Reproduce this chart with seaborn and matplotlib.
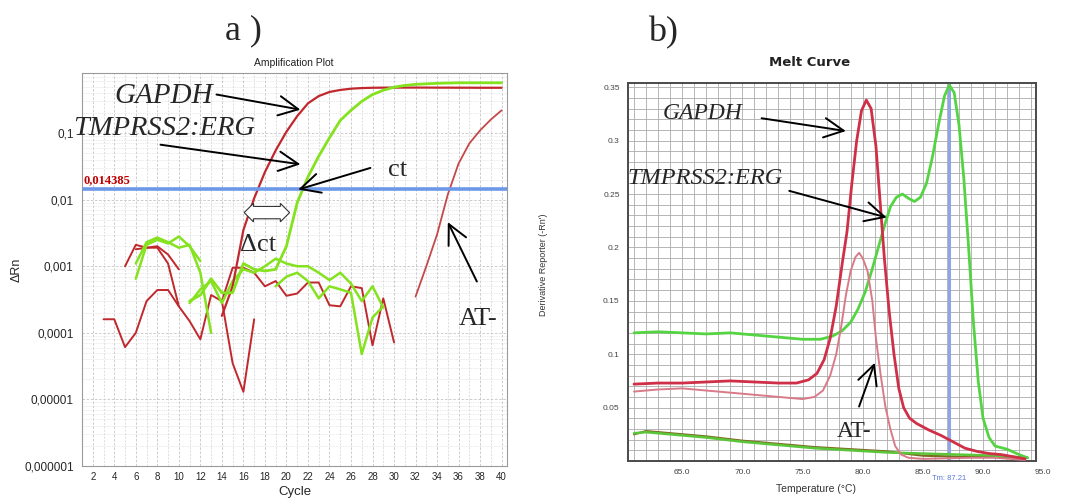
import matplotlib
matplotlib.use("Agg")
import matplotlib.pyplot as plt
import seaborn as sns
from matplotlib.ticker import MultipleLocator, LogLocator, NullFormatter, FixedLocator

# ---------------- data : panel a (amplification plot, log scale) ----------------
gapdh_cycles = list(range(14, 41))
gapdh_drn = [1.8e-4, 5.0e-4, 3.5e-3, 1.05e-2, 2.6e-2, 5.5e-2, 0.105, 0.18, 0.28,
             0.36, 0.415, 0.445, 0.465, 0.475, 0.48, 0.482, 0.483, 0.483, 0.483,
             0.483, 0.482, 0.482, 0.481, 0.481, 0.48, 0.48, 0.48]
tmprss_cycles = list(range(11, 41))
tmprss_drn = [3.0e-4, 3.7e-4, 6.5e-4, 4.0e-4, 4.0e-4, 1.1e-3, 9.0e-4, 8.5e-4, 9.0e-4,
              2.0e-3, 9.0e-3, 2.2e-2, 4.5e-2, 8.5e-2, 0.155, 0.22, 0.3, 0.38, 0.44,
              0.49, 0.52, 0.54, 0.55, 0.56, 0.565, 0.57, 0.57, 0.57, 0.57, 0.57]
atneg_cycles = list(range(32, 41))
atneg_drn = [3.5e-4, 1.0e-3, 3.0e-3, 1.2e-2, 3.5e-2, 7.0e-2, 0.11, 0.16, 0.22]

red_low_cycles = list(range(3, 18))
red_low = [1.6e-4, 1.6e-4, 6.1e-5, 1.0e-4, 3.0e-4, 4.4e-4, 4.4e-4, 2.5e-4, 1.5e-4,
           8.0e-5, 3.7e-4, 3.0e-4, 3.5e-5, 1.3e-5, 1.6e-4]
red_up1_cycles = list(range(5, 11))
red_up1 = [1.0e-3, 2.1e-3, 1.9e-3, 2.0e-3, 1.5e-3, 9.0e-4]
red_up2_cycles = list(range(6, 11))
red_up2 = [1.8e-3, 1.9e-3, 1.9e-3, 1.1e-3, 2.5e-4]
red_mid_cycles = list(range(14, 31))
red_mid = [3.0e-4, 9.5e-4, 9.5e-4, 8.0e-4, 5.0e-4, 6.0e-4, 3.6e-4, 3.9e-4, 5.7e-4,
           5.7e-4, 2.6e-4, 2.5e-4, 5.0e-4, 4.7e-4, 6.5e-5, 3.3e-4, 7.2e-5]
green_a_cycles = list(range(6, 13))
green_a = [6.5e-4, 2.1e-3, 2.5e-3, 2.2e-3, 2.8e-3, 2.0e-3, 1.2e-3]
green_b_cycles = list(range(6, 14))
green_b = [1.1e-3, 2.3e-3, 2.7e-3, 2.3e-3, 1.9e-3, 2.1e-3, 8.0e-4, 1.0e-4]
green_up_cycles = list(range(11, 30))
green_up = [2.8e-4, 4.5e-4, 6.0e-4, 2.8e-4, 6.0e-4, 9.0e-4, 8.0e-4, 1.0e-3, 1.3e-3,
            1.1e-3, 1.0e-3, 1.0e-3, 8.0e-4, 6.2e-4, 8.0e-4, 5.5e-4, 3.0e-4, 5.0e-4, 2.4e-4]
green_lo_cycles = list(range(19, 30))
green_lo = [5.0e-4, 7.0e-4, 8.0e-4, 6.0e-4, 3.3e-4, 5.0e-4, 4.5e-4, 4.0e-4, 4.8e-5,
            1.7e-4, 2.5e-4]

threshold = 0.014385
a_yticks = [1e-6, 1e-5, 1e-4, 1e-3, 1e-2, 1e-1]
a_yticklabels = ["0,000001", "0,00001", "0,0001", "0,001", "0,01", "0,1"]
a_xticks = list(range(2, 41, 2))

# ---------------- data : panel b (melt curve) ----------------
gapdh_t = [61, 63, 65, 67, 69, 71, 73, 74.5, 75.5, 76.2, 76.8, 77.3, 77.8, 78.3, 78.7,
           79.1, 79.5, 79.9, 80.3, 80.7, 81.1, 81.5, 81.8, 82.2, 82.6, 83.0, 83.4,
           83.9, 84.5, 85.5, 86.5, 87.5, 88.5, 89.5, 90.5, 91.5, 92.5, 93.5]
gapdh_d = [0.072, 0.073, 0.073, 0.074, 0.075, 0.074, 0.073, 0.073, 0.076, 0.082, 0.095,
           0.115, 0.145, 0.185, 0.215, 0.26, 0.30, 0.328, 0.338, 0.33, 0.295, 0.235,
           0.19, 0.14, 0.10, 0.068, 0.05, 0.04, 0.035, 0.029, 0.024, 0.018, 0.012,
           0.009, 0.007, 0.006, 0.004, 0.002]
atneg_t = [61, 63, 65, 67, 69, 71, 73, 75, 76, 76.7, 77.3, 77.8, 78.2, 78.6, 79.0, 79.4,
           79.7, 80.0, 80.4, 80.8, 81.1, 81.5, 81.9, 82.3, 82.7, 83.2, 83.8, 85, 87,
           89, 91, 93.5]
atneg_d = [0.065, 0.067, 0.068, 0.066, 0.064, 0.062, 0.060, 0.058, 0.060, 0.066, 0.080,
           0.10, 0.125, 0.155, 0.178, 0.191, 0.195, 0.19, 0.178, 0.15, 0.115, 0.08,
           0.05, 0.03, 0.014, 0.006, 0.003, 0.002, 0.0025, 0.003, 0.003, 0.001]
tmp_t = [61, 63, 65, 67, 69, 71, 73, 75, 76.5, 77.5, 78.3, 79.0, 79.6, 80.2, 80.8, 81.3,
         81.8, 82.3, 82.8, 83.3, 83.8, 84.3, 84.8, 85.3, 85.8, 86.3, 86.8, 87.2, 87.6,
         88.0, 88.4, 88.8, 89.2, 89.6, 90.0, 90.5, 91.0, 92.0, 93.0, 93.7]
tmp_d = [0.12, 0.121, 0.12, 0.119, 0.12, 0.118, 0.116, 0.114, 0.114, 0.117, 0.122, 0.13,
         0.142, 0.158, 0.18, 0.20, 0.22, 0.238, 0.247, 0.25, 0.246, 0.243, 0.247, 0.26,
         0.285, 0.315, 0.342, 0.352, 0.345, 0.315, 0.265, 0.20, 0.13, 0.075, 0.04,
         0.022, 0.014, 0.011, 0.006, 0.003]
low_t = [61, 62, 63, 65, 67, 70, 73, 76, 79, 82, 85, 88, 91, 93.7]
low_green = [0.026, 0.027, 0.026, 0.024, 0.022, 0.018, 0.015, 0.012, 0.010, 0.008,
             0.007, 0.006, 0.005, 0.003]
low_olive = [0.025, 0.028, 0.027, 0.025, 0.023, 0.019, 0.016, 0.013, 0.011, 0.009,
             0.005, 0.004, 0.004, 0.003]
tm_value = 87.21
b_xticks = [65, 70, 75, 80, 85, 90]
b_yticks = [0.05, 0.1, 0.15, 0.2, 0.25, 0.3, 0.35]
b_yticklabels = ["0.05", "0.1", "0.15", "0.2", "0.25", "0.3", "0.35"]

# ---------------- style ----------------
sns.set_style("white")
plt.rcParams["font.family"] = ["Liberation Sans", "DejaVu Sans"]
SERIF = ["Liberation Serif", "DejaVu Serif"]

W, H = 1065, 501
fig = plt.figure(figsize=(W / 100, H / 100), dpi=100)
axA = fig.add_axes([82 / W, 35 / H, 425 / W, 393 / H])
axB = fig.add_axes([628 / W, 40 / H, 408 / W, 378 / H])

# ================= panel a =================
RED = "#c0282d"
GREEN = "#84e21e"
noise = [(red_low_cycles, red_low, RED), (red_up1_cycles, red_up1, RED),
         (red_up2_cycles, red_up2, RED), (red_mid_cycles, red_mid, RED),
         (green_a_cycles, green_a, GREEN), (green_b_cycles, green_b, GREEN),
         (green_up_cycles, green_up, GREEN), (green_lo_cycles, green_lo, GREEN)]
axA.set_yscale("log")
for xs, ys, col in noise:
    sns.lineplot(x=xs, y=ys, ax=axA, color=col, lw=1.4 if col == RED else 1.8, zorder=2)
sns.lineplot(x=gapdh_cycles, y=gapdh_drn, ax=axA, color=RED, lw=1.6, zorder=3)
sns.lineplot(x=tmprss_cycles, y=tmprss_drn, ax=axA, color=GREEN, lw=2.0, zorder=3)
sns.lineplot(x=atneg_cycles, y=atneg_drn, ax=axA, color="#c44848", lw=1.3, zorder=3)
axA.axhline(threshold, color="#6d98e8", lw=2.6, zorder=4)

axA.set_xlim(1, 40.5)
axA.set_ylim(1e-6, 0.8)
axA.yaxis.set_major_locator(FixedLocator(a_yticks))
axA.set_yticklabels(a_yticklabels)
axA.yaxis.set_minor_locator(LogLocator(base=10, subs=range(2, 10)))
axA.yaxis.set_minor_formatter(NullFormatter())
axA.set_xticks(a_xticks)
axA.set_xticklabels([str(v) for v in a_xticks])
axA.xaxis.set_minor_locator(MultipleLocator(1))
axA.grid(True, which="major", color="#c4c4c4", ls=(0, (3, 2)), lw=0.6)
axA.grid(True, which="minor", axis="x", color="#d2d2d2", ls=(0, (3, 2)), lw=0.5)
axA.grid(True, which="minor", axis="y", color="#d6d6d6", ls=(0, (1, 1.5)), lw=0.5)
axA.set_axisbelow(True)
axA.tick_params(axis="y", which="major", labelsize=8.5, length=3, color="#777", pad=3)
axA.tick_params(axis="x", which="major", labelsize=7, length=0, pad=4)
axA.tick_params(which="minor", length=0)
for s in axA.spines.values():
    s.set_color("#9a9a9a")
    s.set_linewidth(0.8)
axA.set_xlabel("Cycle", fontsize=9.5)
axA.xaxis.set_label_coords(0.5, -0.052)
axA.set_ylabel("ΔRn", fontsize=9)
axA.yaxis.set_label_coords(-0.14, 0.5)

axA.text(1.1, 0.0158, "0,014385", color="#c00000", fontsize=9, fontweight="bold",
         family=SERIF, ha="left", va="bottom", zorder=5)

arrow_kw = dict(arrowstyle="->,head_length=0.7,head_width=0.35", color="black",
                lw=1.4, mutation_scale=20, shrinkA=0, shrinkB=0)
def arrow(ax, tail, tip):
    ax.annotate("", xy=tip, xytext=tail, arrowprops=arrow_kw, zorder=6)

axA.text(8.6, 0.36, "GAPDH", family=SERIF, style="italic", fontsize=21, ha="center", va="center")
arrow(axA, (13.5, 0.38), (21.3, 0.225))
axA.text(8.6, 0.118, "TMPRSS2:ERG", family=SERIF, style="italic", fontsize=20.5, ha="center", va="center")
arrow(axA, (8.3, 0.067), (21.3, 0.034))
axA.text(30.3, 0.028, "ct", family=SERIF, fontsize=19, ha="center", va="center")
arrow(axA, (27.8, 0.030), (21.1, 0.0142))
axA.text(17.4, 0.0021, "Δct", family=SERIF, fontsize=19, ha="center", va="center")
axA.text(18.2, 0.0064, " " * 15, fontsize=5.5, ha="center", va="center",
         bbox=dict(boxstyle="darrow,pad=0.35", fc="white", ec="#333333", lw=0.8), zorder=6)
axA.text(37.8, 0.00016, "AT-", family=SERIF, fontsize=19, ha="center", va="center")
arrow(axA, (37.7, 0.00059), (35.0, 0.0046))

fig.text(294 / W, 1 - 63 / H, "Amplification Plot", fontsize=7.5, ha="center", va="center", color="#222")
fig.text(243 / W, 1 - 31 / H, "a )", family=SERIF, fontsize=26, ha="center", va="center")

# ================= panel b =================
sns.lineplot(x=low_t, y=low_olive, ax=axB, color="#7d6b22", lw=1.6, zorder=3)
sns.lineplot(x=low_t, y=low_green, ax=axB, color="#5cc63a", lw=1.8, zorder=3)
sns.lineplot(x=tmp_t, y=tmp_d, ax=axB, color="#55d443", lw=2.0, zorder=3)
sns.lineplot(x=atneg_t, y=atneg_d, ax=axB, color="#d97a88", lw=1.4, zorder=3)
sns.lineplot(x=gapdh_t, y=gapdh_d, ax=axB, color="#cf2f47", lw=2.0, zorder=3)
axB.axvline(tm_value, color="#8ea6e8", lw=2.2, zorder=2)

axB.set_xlim(60.5, 94.4)
axB.set_ylim(0, 0.354)
axB.set_xticks(b_xticks)
axB.set_xticklabels([f"{v:.1f}" for v in b_xticks])
axB.set_yticks(b_yticks)
axB.set_yticklabels(b_yticklabels)
axB.xaxis.set_minor_locator(MultipleLocator(1))
axB.yaxis.set_minor_locator(MultipleLocator(0.01))
axB.grid(True, which="both", color="#ababab", lw=0.6, ls="-")
axB.set_axisbelow(True)
axB.tick_params(which="both", length=0, labelsize=6, colors="#444", pad=6)
for s in axB.spines.values():
    s.set_color("#4a4a4a")
    s.set_linewidth(1.4)
axB.text(95.0, -0.0105, "95.0", fontsize=6, color="#444", ha="center", va="center", clip_on=False)
axB.set_xlabel("Temperature (°C)", fontsize=7.5, color="#333")
axB.xaxis.set_label_coords(0.46, -0.062)
axB.set_ylabel("Derivative Reporter (-Rn')", fontsize=6.5, color="#333")
axB.yaxis.set_label_coords(-0.196, 0.52)
axB.text(tm_value, -0.016, "Tm: 87.21", fontsize=5.5, color="#5b78d8", ha="center", va="center",
         clip_on=False)

axB.text(66.7, 0.325, "GAPDH", family=SERIF, style="italic", fontsize=17, ha="center", va="center")
arrow(axB, (71.6, 0.321), (78.6, 0.309))
axB.text(66.9, 0.265, "TMPRSS2:ERG", family=SERIF, style="italic", fontsize=17.5, ha="center", va="center")
arrow(axB, (73.9, 0.253), (82.0, 0.228))
axB.text(79.3, 0.028, "AT-", family=SERIF, fontsize=17, ha="center", va="center")
arrow(axB, (79.7, 0.051), (81.0, 0.092))

fig.text(810 / W, 1 - 63 / H, "Melt Curve", fontsize=9.5, fontweight="bold",
         family=["DejaVu Sans"], ha="center", va="center", color="#222")
fig.text(663 / W, 1 - 33 / H, "b)", family=SERIF, fontsize=26, ha="center", va="center")

fig.savefig("out.png", dpi=100)
